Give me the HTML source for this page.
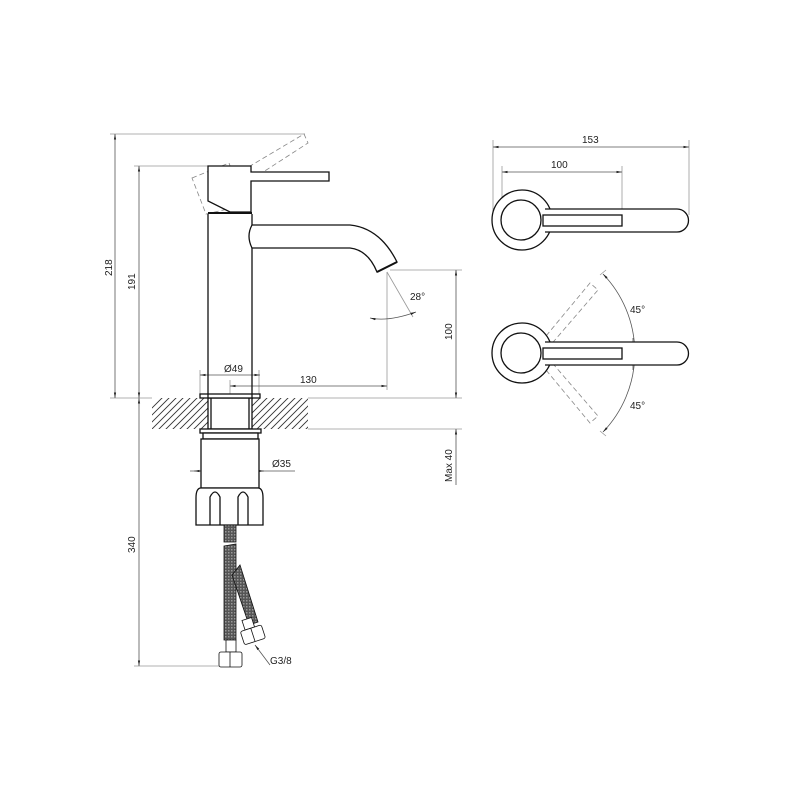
<!DOCTYPE html>
<html><head><style>html,body{margin:0;padding:0;background:#fff}svg{display:block}text{font-family:"Liberation Sans",sans-serif;font-size:10px;fill:#222}</style></head><body>
<svg width="800" height="800" viewBox="0 0 800 800" xmlns="http://www.w3.org/2000/svg">
<defs>
<clipPath id="fc"><rect x="152" y="398" width="156" height="31"/></clipPath>
<pattern id="br" width="3" height="3" patternUnits="userSpaceOnUse"><rect width="3" height="3" fill="#555"/><rect width="1.5" height="1.5" fill="#999"/></pattern>
<marker id="a" viewBox="0 0 10 10" refX="10" refY="5" markerWidth="7" markerHeight="7" orient="auto-start-reverse"><path d="M0,3 L10,5 L0,7 z" fill="#222"/></marker>
</defs>
<g clip-path="url(#fc)" stroke="#333" stroke-width="0.9">
<path d="M120,440 L170,390 M127,440 L177,390 M134,440 L184,390 M141,440 L191,390 M148,440 L198,390 M155,440 L205,390 M162,440 L212,390 M169,440 L219,390 M176,440 L226,390 M183,440 L233,390 M190,440 L240,390 M197,440 L247,390 M204,440 L254,390 M211,440 L261,390 M218,440 L268,390 M225,440 L275,390 M232,440 L282,390 M239,440 L289,390 M246,440 L296,390 M253,440 L303,390 M260,440 L310,390 M267,440 L317,390 M274,440 L324,390 M281,440 L331,390 M288,440 L338,390 M295,440 L345,390 M302,440 L352,390"/>
</g>
<g stroke="#999" stroke-width="0.8" fill="none">
<line x1="110" y1="134" x2="305" y2="134"/>
<line x1="134" y1="166" x2="208" y2="166"/>
<line x1="110" y1="398" x2="152" y2="398"/>
<line x1="308" y1="398" x2="462" y2="398"/>
<line x1="308" y1="429" x2="462" y2="429"/>
<line x1="390" y1="270" x2="462" y2="270"/>
<line x1="387" y1="272" x2="387" y2="390"/>
<line x1="200" y1="370" x2="200" y2="394"/>
<line x1="259" y1="370" x2="259" y2="394"/>
<line x1="230" y1="380" x2="230" y2="394"/>
<line x1="134" y1="666" x2="222" y2="666"/>
<line x1="206" y1="433" x2="206" y2="471"/>
<line x1="252" y1="433" x2="252" y2="471"/>
<line x1="493" y1="140" x2="493" y2="220"/>
<line x1="689" y1="140" x2="689" y2="215"/>
<line x1="502" y1="166" x2="502" y2="220"/>
<line x1="622" y1="166" x2="622" y2="215"/>
<line x1="387" y1="272" x2="413" y2="317"/>
<line x1="600" y1="275" x2="606" y2="270"/>
<line x1="600" y1="431" x2="606" y2="436"/>
</g>
<g stroke="#555" stroke-width="0.8" fill="none">
<line x1="115" y1="134" x2="115" y2="398" marker-start="url(#a)" marker-end="url(#a)"/>
<line x1="139" y1="166" x2="139" y2="398" marker-start="url(#a)" marker-end="url(#a)"/>
<line x1="139" y1="398" x2="139" y2="666" marker-start="url(#a)" marker-end="url(#a)"/>
<line x1="456" y1="270" x2="456" y2="398" marker-start="url(#a)" marker-end="url(#a)"/>
<line x1="456" y1="429" x2="456" y2="485" marker-start="url(#a)"/>
<line x1="230" y1="386" x2="387" y2="386" marker-start="url(#a)" marker-end="url(#a)"/>
<line x1="200" y1="375" x2="260" y2="375" marker-start="url(#a)" marker-end="url(#a)"/>
<line x1="190" y1="471" x2="295" y2="471"/>
<line x1="206" y1="471" x2="194" y2="471" marker-end="url(#a)"/>
<line x1="252" y1="471" x2="264" y2="471" marker-end="url(#a)"/>
<path d="M370,318 Q388,322 416,312" marker-start="url(#a)" marker-end="url(#a)"/>
<line x1="493" y1="147" x2="689" y2="147" marker-start="url(#a)" marker-end="url(#a)"/>
<line x1="502" y1="172" x2="622" y2="172" marker-start="url(#a)" marker-end="url(#a)"/>
<path d="M603,274 A114,114 0 0 1 603,432" marker-start="url(#a)" marker-end="url(#a)"/>
<line x1="633" y1="338" x2="633" y2="348" marker-end="url(#a)"/>
<line x1="633" y1="370" x2="633" y2="359" marker-end="url(#a)"/>
<line x1="627" y1="353" x2="638" y2="353"/>
<line x1="270" y1="665" x2="255" y2="645" marker-end="url(#a)"/>
</g>
<g stroke="#888" stroke-width="0.8" fill="none" stroke-dasharray="5,3">
<polygon points="192,178 229,163 245,205 206,214"/>
<polygon points="235,175 304,134 308,143 240,187"/>
<polygon points="541,342 590,283 598,290 548,348"/>
<polygon points="541,364 590,423 598,416 548,358"/>
</g>
<g stroke="#111" stroke-width="1.3" fill="#fff">
<rect x="208" y="398" width="44" height="31"/>
<line x1="211" y1="398" x2="211" y2="429"/><line x1="249" y1="398" x2="249" y2="429"/>
<rect x="200" y="394" width="60" height="4"/>
<rect x="200" y="429" width="61" height="4"/>
<rect x="203" y="433" width="55" height="6"/>
<rect x="201" y="439" width="58" height="49"/>
<path d="M196,498 Q196,488 201,488 L258,488 Q263,488 263,498 L263,525 L196,525 Z"/>
<path d="M210,525 V497 Q215,487 220,497 V525 M238,525 V497 Q243,487 248,497 V525" fill="none"/>
<path d="M208,214 V398 M252,214 V398" fill="none"/>
<path d="M208,166 H251 V172 H329 V181 H251 V212 H230 L208,201 Z"/>
<line x1="208" y1="213" x2="252" y2="213" stroke-width="2"/>
<path d="M252,225 H350 Q380,228 397,262 L377,272 Q368,250 350,248 H252 Q246,236 252,225 Z"/>
<line x1="377" y1="272" x2="397" y2="262" stroke-width="2"/>
<circle cx="522" cy="220" r="30"/>
<path d="M545,209 H677 A11.5,11.5 0 0 1 677,232 H545" />
<circle cx="521" cy="220" r="20"/>
<rect x="543" y="215" width="79" height="11"/>
<circle cx="522" cy="353" r="30"/>
<path d="M545,342 H677 A11.5,11.5 0 0 1 677,365 H545" />
<circle cx="521" cy="353" r="20"/>
<rect x="543" y="348" width="79" height="11"/>
</g>
<g stroke="#111" stroke-width="0.8">
<rect x="224" y="525" width="12" height="17" fill="url(#br)"/>
<path d="M224,546 L236,544 L236,640 L226,640 L224,640 Z" fill="url(#br)"/>
<path d="M232,575 L240,565 L258,622 L249,625 Z" fill="url(#br)"/>
<rect x="226" y="640" width="10" height="12" fill="#fff"/>
<rect x="219" y="652" width="23" height="15" rx="2" fill="#fff"/>
<line x1="230" y1="652" x2="230" y2="667"/>
<g transform="rotate(-18 252 632)"><rect x="246" y="618" width="10" height="10" fill="#fff"/><rect x="241" y="628" width="22" height="14" rx="2" fill="#fff"/><line x1="252" y1="628" x2="252" y2="642"/></g>
</g>
<text x="224" y="372">Ø49</text>
<text x="300" y="383">130</text>
<text x="410" y="300">28°</text>
<text x="272" y="467">Ø35</text>
<text x="270" y="664">G3/8</text>
<text x="582" y="143">153</text>
<text x="551" y="168">100</text>
<text x="630" y="313">45°</text>
<text x="630" y="409">45°</text>
<text transform="translate(112,276) rotate(-90)">218</text>
<text transform="translate(135,290) rotate(-90)">191</text>
<text transform="translate(135,553) rotate(-90)">340</text>
<text transform="translate(452,340) rotate(-90)">100</text>
<text transform="translate(452,482) rotate(-90)">Max 40</text>
</svg>
</body></html>
